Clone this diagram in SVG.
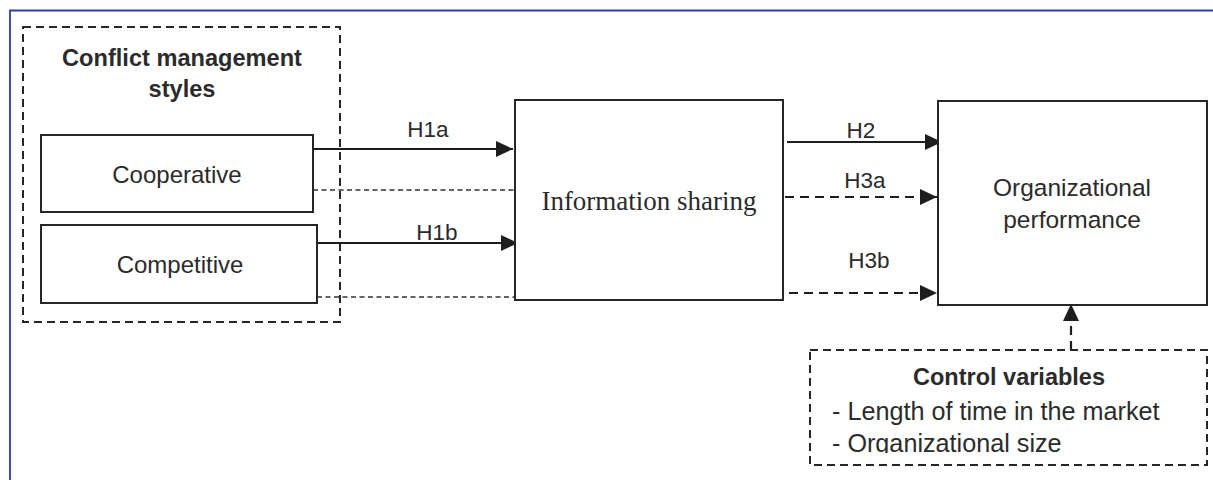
<svg xmlns="http://www.w3.org/2000/svg" width="1213" height="480" viewBox="0 0 1213 480">
<style>
.box{fill:#fff;stroke:#262626;stroke-width:2}
.dbox{fill:none;stroke:#262626;stroke-width:2;stroke-dasharray:8 5}
.t{font-family:"Liberation Sans",Arial,sans-serif;fill:#2b2b2b;text-anchor:middle}
.b{font-weight:bold}
.serif{font-family:"Liberation Serif","Times New Roman",serif;fill:#2b2b2b;text-anchor:middle}
.ar{stroke:#1e1e1e;stroke-width:2.2;fill:none}
.da{stroke:#1e1e1e;stroke-width:2.2;fill:none;stroke-dasharray:9 6}
.thin{stroke:#333;stroke-width:1.3;fill:none;stroke-dasharray:5 3.5}
</style>
<defs>
<marker id="ah" markerUnits="userSpaceOnUse" markerWidth="18" markerHeight="16" refX="17" refY="8" orient="auto">
<path d="M0,0 L17,8 L0,16 Z" fill="#1e1e1e"/>
</marker>
<clipPath id="cvclip"><rect x="800" y="340" width="413" height="113"/></clipPath>
</defs>
<rect width="1213" height="480" fill="#fff"/>
<g id="frame">
<path d="M10,480 L10,10.5 L1213,10.5" fill="none" stroke="#2e3ca6" stroke-width="1.8"/>
</g>
<g id="conflict-group">
<rect class="dbox" x="23" y="27" width="317" height="295"/>
<text class="t b" x="182" y="66" font-size="23.6">Conflict management</text>
<text class="t b" x="182" y="97" font-size="23.6">styles</text>
</g>
<g id="connectors">
<line class="ar" x1="313" y1="149" x2="513" y2="149" marker-end="url(#ah)"/>
<line class="thin" x1="313" y1="190" x2="514" y2="190"/>
<line class="ar" x1="317" y1="243" x2="518" y2="243" marker-end="url(#ah)"/>
<line class="thin" x1="317" y1="297" x2="515" y2="297"/>
<line class="ar" x1="787" y1="142" x2="942" y2="142" marker-end="url(#ah)"/>
<line class="da" x1="785" y1="197" x2="937" y2="197" marker-end="url(#ah)"/>
<line class="da" x1="789" y1="293" x2="937" y2="293" marker-end="url(#ah)"/>
<line class="da" x1="1071" y1="350" x2="1071" y2="304" marker-end="url(#ah)"/>
<text class="t" x="428" y="137" font-size="22.5">H1a</text>
<text class="t" x="437" y="240" font-size="22.5">H1b</text>
<text class="t" x="861" y="138" font-size="22.5">H2</text>
<text class="t" x="865" y="188" font-size="22.5">H3a</text>
<text class="t" x="869" y="268" font-size="22.5">H3b</text>
</g>
<g id="cooperative">
<rect class="box" x="41" y="135" width="272" height="77"/>
<text class="t" x="177" y="183" font-size="24">Cooperative</text>
</g>
<g id="competitive">
<rect class="box" x="41" y="225" width="276" height="78"/>
<text class="t" x="180" y="273" font-size="24">Competitive</text>
</g>
<g id="information-sharing">
<rect class="box" x="515" y="100" width="268" height="200"/>
<text class="serif" x="649" y="210" font-size="27">Information sharing</text>
</g>
<g id="organizational-performance">
<rect class="box" x="938" y="101" width="269" height="204"/>
<text class="t" x="1072" y="196" font-size="24.5">Organizational</text>
<text class="t" x="1072" y="228" font-size="24.5">performance</text>
</g>
<g id="control-variables">
<rect class="dbox" x="810" y="350" width="397" height="115"/>
<text class="t b" x="1009" y="385" font-size="23.5">Control variables</text>
<g clip-path="url(#cvclip)">
<text class="t" x="832" y="420" font-size="25.2" style="text-anchor:start">- Length of time in the market</text>
<text class="t" x="832" y="452" font-size="25.2" style="text-anchor:start">- Organizational size</text>
</g>
</g>
</svg>
